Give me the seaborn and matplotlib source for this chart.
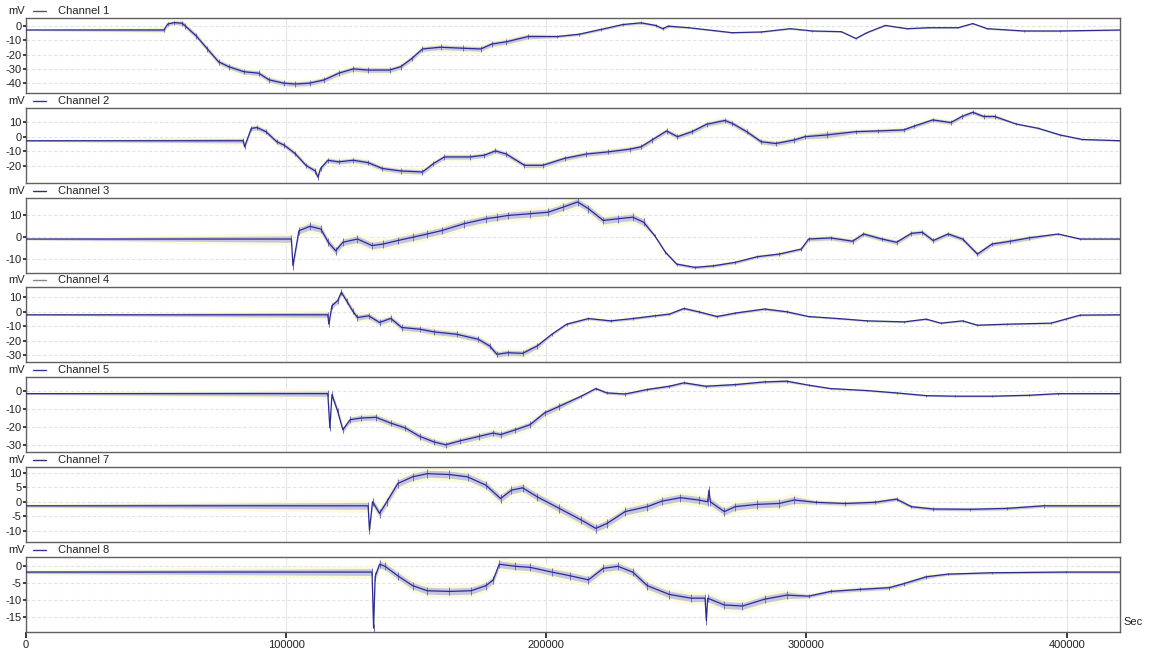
import numpy as np
import pandas as pd
import matplotlib.pyplot as plt
import seaborn as sns
from matplotlib.lines import Line2D

# channel traces (x in Sec, y in mV)
x1 = [0, 53000, 54500, 57000, 60000, 61300, 65500, 69700, 74000, 78000,
      83800, 89400, 93500, 99000, 103400, 109000, 114600, 120200, 125800, 131400,
      139800, 144000, 148200, 152400, 159400, 167800, 174800, 179000, 184600, 193000,
      204200, 212600, 221000, 229400, 236400, 242000, 244800, 246800, 254600, 271400,
      282600, 293800, 302200, 313400, 319000, 323200, 330300, 338700, 347000, 358300,
      363900, 369500, 383500, 397500, 421000]
y1 = [-2.7, -2.7, 1.5, 2.5, 2.0, 0, -7, -16, -25, -28.5,
      -32, -33, -37.7, -40, -40.6, -40, -37.7, -33, -30, -30.8,
      -30.8, -28.5, -22.8, -16, -14.8, -15.5, -16, -12.6, -11, -7.3,
      -7.3, -5.7, -2.3, 1.1, 2.3, 0.5, -1.8, 0, -1.1, -4.6,
      -4.1, -1.8, -3.4, -3.9, -8.7, -4.6, 0.5, -1.8, -1.1, -1.1,
      1.8, -1.8, -3.4, -3.4, -2.7]

x2 = [0, 83500, 84000, 86600, 88800, 92200, 96400, 99200, 103400, 107600,
      111200, 112200, 113200, 116000, 120200, 125800, 131400, 137000, 144000, 152400,
      156600, 160800, 170600, 176200, 180400, 184600, 191600, 198600, 207000, 215400,
      223800, 232200, 236400, 240600, 246200, 250400, 256000, 261600, 268600, 271400,
      277000, 282600, 288200, 295200, 299400, 307800, 319000, 327500, 337300, 341500,
      348500, 355500, 359700, 363900, 368100, 372300, 380600, 389100, 397500, 405900,
      421000]
y2 = [-2.8, -2.8, -7, 5.8, 6.3, 3.5, -3.5, -5.8, -11.6, -19.8,
      -23.7, -28, -22, -16.3, -17.4, -16.3, -17.9, -22, -23.7, -24.4,
      -18.6, -14, -14, -12.8, -9.8, -12, -19.8, -19.8, -15, -12,
      -10.5, -8.6, -7, -2.3, 4, 0, 3.5, 8.6, 11.2, 9.3,
      3.5, -3.5, -4.7, -2.3, 0, 1.2, 3.5, 4, 4.7, 7.4,
      11.6, 9.8, 14, 16.9, 14, 14, 8.8, 5.8, 1.2, -1.9,
      -2.8]

x3 = [0, 102000, 102600, 104900, 109100, 113300, 116200, 119000, 121800, 127400,
      133000, 137300, 142900, 148600, 154200, 159900, 168300, 176800, 181000, 185200,
      193700, 200700, 206400, 212000, 216200, 221900, 227500, 233200, 237400, 241600,
      245800, 250100, 257100, 264200, 272600, 281100, 289500, 298000, 300800, 309300,
      317700, 321900, 329000, 334600, 340300, 344500, 348700, 354400, 360000, 365700,
      371300, 378400, 385400, 396700, 405200, 421000]
y3 = [-0.8, -0.8, -13, 3, 5, 3.8, -2.3, -6.2, -2.3, -0.8,
      -3.8, -3.1, -1.5, 0, 1.5, 3.1, 6.2, 8.5, 9.2, 10,
      10.8, 11.5, 13.8, 16.2, 13.1, 7.7, 8.5, 9.2, 6.9, 0.8,
      -6.9, -12.3, -13.8, -13.1, -11.5, -8.9, -7.7, -5.4, -0.8, -0.3,
      -1.8, 1.5, -0.8, -2.3, 1.8, 2.3, -1.5, 1.5, -0.8, -7.7,
      -3.1, -1.8, -0.3, 1.5, -0.8, -0.8]

x4 = [0, 116000, 116400, 117600, 119800, 121200, 123200, 125500, 127400, 131700,
      135900, 140200, 144400, 151400, 157000, 165500, 173900, 178200, 181000, 185200,
      190900, 196500, 202100, 207800, 216200, 224700, 233200, 241600, 247300, 252900,
      258500, 265600, 272600, 283900, 292400, 300800, 312100, 323400, 337500, 346000,
      351600, 360000, 365700, 377000, 393900, 399600, 405200, 421000]
y4 = [-2.1, -2.1, -8.6, 4.2, 7.7, 13.5, 7.7, 0.7, -4, -2.8,
      -7.4, -4.6, -10.9, -12.1, -14, -15.6, -19.1, -23.7, -29.5, -28.4,
      -28.8, -23.7, -15.6, -8.6, -4.7, -6.3, -4.7, -2.8, -1.6, 2.3,
      0, -3.3, -0.9, 1.9, 0, -3.3, -4.7, -6.3, -7, -5.1,
      -7.9, -6.3, -9.3, -8.6, -7.9, -5.1, -2.3, -2.1]

x5 = [0, 116000, 116800, 117600, 119800, 121800, 124600, 128800, 134500, 140200,
      145800, 151400, 157000, 161300, 166900, 174000, 179600, 182400, 188100, 193700,
      199300, 205000, 213400, 219000, 223300, 230300, 238800, 247300, 252900, 261300,
      272600, 283900, 292400, 300800, 309300, 323400, 334600, 346000, 357200, 371300,
      385400, 396700, 421000]
y5 = [-1.7, -1.7, -20.7, -2.2, -11.5, -21.7, -16.1, -15.2, -14.8, -18,
      -20.7, -25.4, -28.5, -30, -27.8, -25.4, -23.5, -24.4, -21.7, -18.9,
      -12.4, -8.7, -3.1, 1.1, -1.3, -1.9, 0.6, 2.4, 4.3, 2.4,
      3.3, 4.8, 5.2, 3, 1.1, 0, -1.3, -2.8, -3.1, -3.1,
      -2.6, -1.7, -1.7]

x7 = [0, 131500, 132000, 133200, 135900, 138700, 142900, 148600, 154200, 162700,
      169700, 176800, 182400, 186600, 190900, 196500, 205000, 213400, 219000, 223300,
      230300, 238800, 244400, 251500, 258500, 262000, 262500, 263000, 268400, 272600,
      281100, 289500, 295200, 303600, 314900, 326200, 334600, 340300, 348700, 362800,
      377000, 391100, 421000]
y7 = [-1.4, -1.4, -9.8, 0, -4, 0, 6.3, 8.6, 9.7, 9.4,
      8.6, 5.7, 1.1, 4, 4.8, 1.7, -2.3, -6.3, -9.2, -7.5,
      -3.4, -1.7, 0.2, 1.4, 0.6, 0, 4, 0, -3.4, -1.7,
      -0.9, -0.6, 0.6, -0.2, -0.6, -0.2, 0.9, -1.7, -2.5, -2.6,
      -2.3, -1.4, -1.4]

x8 = [0, 133000, 133600, 134200, 135900, 138000, 142900, 148600, 154200, 162700,
      171100, 176800, 179600, 181900, 188100, 193700, 202100, 209200, 216200, 221900,
      227500, 233200, 238800, 247300, 255700, 261000, 261500, 262000, 268400, 275400,
      283900, 292400, 300800, 309300, 320600, 331800, 337500, 346000, 354400, 371300,
      399600, 421000]
y8 = [-1.7, -1.7, -18.2, -3, 0.6, 0, -2.8, -5.7, -7.2, -7.4,
      -7.2, -5.7, -4, 0.6, 0, -0.3, -1.7, -2.8, -4, -0.6,
      0, -1.7, -5.7, -8.3, -9.4, -9.4, -16, -9.4, -11.4, -11.7,
      -9.7, -8.5, -8.8, -7.4, -6.8, -6.3, -5.1, -3.1, -2.3, -1.9,
      -1.7, -1.7]

# noise band (half range in mV) per stretch of the record
edges1, amps1 = [53000, 60000, 200000, 250000], [0.3, 1.2, 1.6, 0.8, 0.4]
edges2, amps2 = [83500, 300000, 310000, 380000], [0.4, 1.5, 2.0, 1.2, 0.5]
edges3, amps3 = [102000, 240000, 300000, 395000], [0.3, 1.5, 0.6, 0.9, 0.3]
edges4, amps4 = [116000, 200000, 300000], [0.3, 1.8, 0.8, 0.5]
edges5, amps5 = [116000, 210000, 300000], [0.4, 1.5, 0.7, 0.4]
edges7, amps7 = [131500, 300000, 340000], [0.4, 1.2, 0.6, 0.5]
edges8, amps8 = [133000, 300000, 350000], [0.4, 1.0, 0.5, 0.3]

names = ['Channel 1', 'Channel 2', 'Channel 3', 'Channel 4', 'Channel 5', 'Channel 7', 'Channel 8']
ylims = [(-46.9, 5.7), (-31.9, 20), (-16.2, 18.2), (-35.1, 16.9), (-34.1, 7.4), (-13.9, 12), (-19.3, 2.8)]
yticks = [[0, -10, -20, -30, -40], [10, 0, -10, -20], [10, 0, -10], [10, 0, -10, -20, -30],
          [0, -10, -20, -30], [10, 5, 0, -5, -10], [0, -5, -10, -15]]
xticks = [0, 100000, 200000, 300000, 400000]
legend_colors = ['#555566', '#333399', '#333355', '#888888', '#333399', '#333366', '#333399']

series = [(x1, y1, edges1, amps1), (x2, y2, edges2, amps2), (x3, y3, edges3, amps3),
          (x4, y4, edges4, amps4), (x5, y5, edges5, amps5), (x7, y7, edges7, amps7),
          (x8, y8, edges8, amps8)]

sns.set_theme(style="white")
plt.rcParams['font.family'] = ['Liberation Sans', 'DejaVu Sans']

W, H = 1152, 651
fig = plt.figure(figsize=(W / 100, H / 100), dpi=100)
left_px, right_px = 26, 1120

for i, ((x, y, edges, amps), name) in enumerate(zip(series, names)):
    top_px = 18 + 89.8 * i
    bot_px = top_px + 75
    ax = fig.add_axes([left_px / W, 1 - bot_px / H, (right_px - left_px) / W, 75 / H])
    x = np.array(x, dtype=float)
    y = np.array(y, dtype=float)
    spread = np.array(amps)[np.searchsorted(edges, x, side='right')]

    # pale yellow halo and lavender noise band around the trace
    ax.fill_between(x, y - spread * 1.9, y + spread * 1.9, color='#fbfbdc', lw=0, zorder=1)
    ax.fill_between(x, y - spread, y + spread, color='#b4b4e2', alpha=0.75, lw=0, zorder=2)
    ax.vlines(x, y - spread * 1.2, y + spread * 1.2, color='#7070c4', lw=0.7, zorder=2)
    df = pd.DataFrame({'t': x, 'v': y})
    sns.lineplot(data=df, x='t', y='v', ax=ax, color='#2b2b90', lw=0.9,
                 estimator=None, sort=False, zorder=3)

    ax.set_xlim(0, 420500)
    ax.set_ylim(*ylims[i])
    ax.set_yticks(yticks[i])
    ax.set_yticklabels([str(t) for t in yticks[i]])
    ax.set_xticks(xticks)
    ax.set_xlabel('')
    ax.set_ylabel('')
    for t in yticks[i]:
        ax.axhline(t, color='#e2e2e2', lw=0.8, ls=(0, (3, 2)), zorder=0)
    for t in xticks[1:]:
        ax.axvline(t, color='#e6e6e6', lw=0.8, zorder=0)
    for sp in ax.spines.values():
        sp.set_color('#606060')
        sp.set_linewidth(1.0)
    ax.tick_params(axis='y', labelsize=8, length=2, pad=1, colors='#222222', left=True)
    if i == len(series) - 1:
        ax.tick_params(axis='x', labelsize=8, length=4, pad=2, colors='#222222', bottom=True)
        ax.set_xticklabels([str(t) for t in xticks])
        fig.text(1123 / W, 1 - 622 / H, 'Sec', fontsize=8, color='#222222', va='center')
    else:
        ax.tick_params(axis='x', labelbottom=False, bottom=False)

    ty = 1 - (top_px - 7) / H
    fig.text(8 / W, ty, 'mV', fontsize=8, color='#222222', va='center')
    fig.add_artist(Line2D([33 / W, 46 / W], [ty, ty], color=legend_colors[i], lw=1.0))
    fig.text(58 / W, ty, name, fontsize=8, color='#222222', va='center')

fig.savefig('out.png', dpi=100)
